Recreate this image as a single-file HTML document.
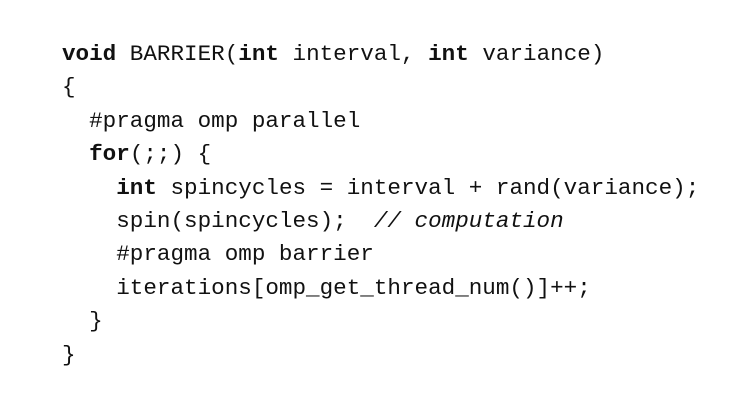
<!DOCTYPE html>
<html><head><meta charset="utf-8"><style>
html,body{margin:0;padding:0;background:#fff;width:736px;height:405px;overflow:hidden}
pre{position:absolute;left:62px;top:38px;margin:0;font-family:"Liberation Mono",monospace;font-size:22.6px;line-height:33.4px;color:#111}
b{font-weight:bold}
i{font-style:italic}
</style></head><body>
<pre><b>void</b> BARRIER(<b>int</b> interval, <b>int</b> variance)
{
  #pragma omp parallel
  <b>for</b>(;;) {
    <b>int</b> spincycles = interval + rand(variance);
    spin(spincycles);  <i>// computation</i>
    #pragma omp barrier
    iterations[omp_get_thread_num()]++;
  }
}</pre>
</body></html>
